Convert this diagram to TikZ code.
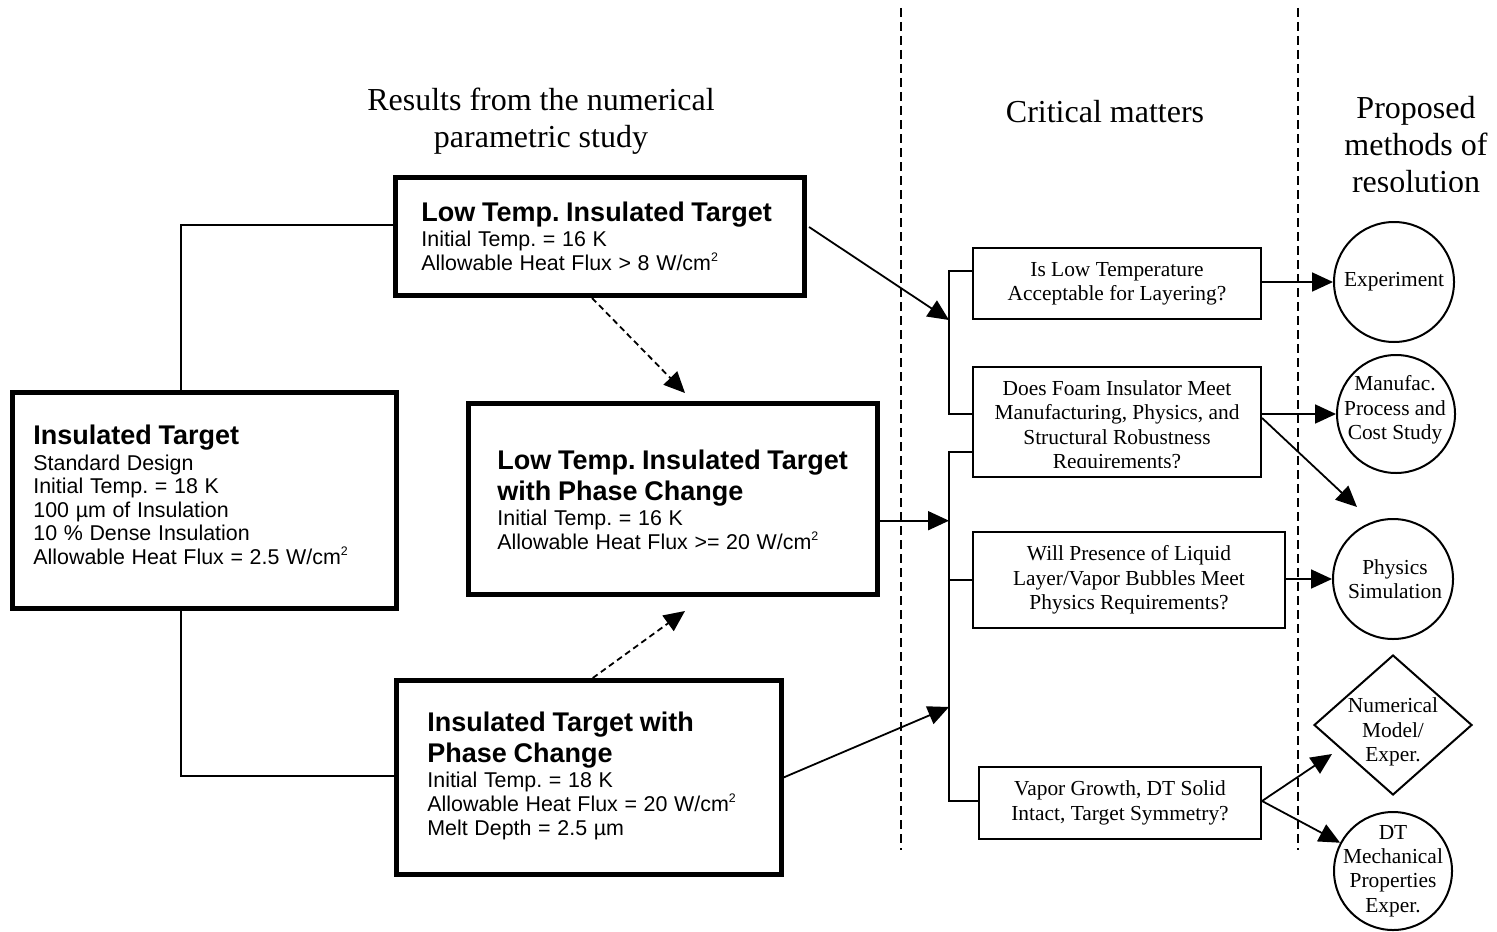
\documentclass[tikz,border=0pt]{standalone}
\usepackage{fontspec}
\setmainfont{Liberation Serif}
\newfontfamily\arialfont{Liberation Sans}
\usetikzlibrary{arrows.meta,shapes.geometric,calc}
\frenchspacing

% type sizes
\newcommand{\boxtitle}{\arialfont\fontsize{13.5}{15.5}\selectfont\bfseries}
\newcommand{\boxbody}{\arialfont\fontsize{10.7}{11.75}\selectfont\mdseries}
\newcommand{\serifsmall}{\rmfamily\fontsize{10.7}{12.2}\selectfont}
\newcommand{\serifhead}{\rmfamily\fontsize{16}{18.5}\selectfont}
\newcommand{\sqr}{\raisebox{0.42em}{\fontsize{6.2}{7}\selectfont 2}}

\tikzset{
  thickbox/.style={draw, rectangle, line width=2.5pt, inner sep=0pt},
  thinbox/.style={draw, rectangle, line width=1pt, inner sep=0pt, align=center, font=\serifsmall},
  ring/.style={draw, circle, line width=1pt, inner sep=0pt},
  rhomb/.style={draw, diamond, line width=1pt, inner sep=0pt},
  boxtext/.style={anchor=north west, inner sep=0pt, text width=185pt, align=left},
  seriftext/.style={inner sep=0pt, align=center, font=\serifsmall},
  header/.style={inner sep=0pt, align=center, font=\serifhead},
  conn/.style={line width=0.9pt},
  arr/.style={conn, -{Triangle[length=10.5pt,width=9.5pt]}},
  darr/.style={arr, dash pattern=on 3pt off 2pt},
  sepline/.style={line width=0.9pt, dash pattern=on 4.5pt off 2.5pt},
}

\begin{document}
\begin{tikzpicture}[x=0.5pt,y=-0.5pt]
\useasboundingbox (0,0) rectangle (1497,931);

% column separators
\coordinate (sepAtop) at (901,8);  \coordinate (sepAbot) at (901,850);
\coordinate (sepBtop) at (1298,8); \coordinate (sepBbot) at (1298,850);
\draw[sepline] (sepAtop) -- (sepAbot);
\draw[sepline] (sepBtop) -- (sepBbot);

% column headings
\node[header] (h1) at (541,121) {Results from the numerical\\parametric study};
\node[header] (h2) at (1105,112) {Critical matters};
\begin{scope}
  \clip (1300,0) rectangle (1497,191);
  \node[header] (h3) at (1416,145) {Proposed\\methods of\\resolution};
\end{scope}

% design cases
\node[thickbox, minimum width=192pt, minimum height=107.75pt] (A) at (204.5,500.3) {};
\node[thickbox, minimum width=204.5pt, minimum height=59pt] (B) at (600,236.5) {};
\node[thickbox, minimum width=204.25pt, minimum height=95.25pt] (C) at (673,499.2) {};
\node[thickbox, minimum width=192.25pt, minimum height=97pt] (D) at (588.75,777.5) {};

\node[boxtext] (At) at (33,425) {\boxtitle Insulated Target\par\vskip1pt
  \boxbody Standard Design\\Initial Temp. = 18 K\\100 µm of Insulation\\10 \% Dense Insulation\\Allowable Heat Flux = 2.5 W/cm\sqr};
\node[boxtext] (Bt) at (421,201.5) {\boxtitle Low Temp. Insulated Target\par\vskip1pt
  \boxbody Initial Temp. = 16 K\\Allowable Heat Flux > 8 W/cm\sqr};
\node[boxtext] (Ct) at (497,449.5) {\boxtitle Low Temp. Insulated Target\\with Phase Change\par\vskip1pt
  \boxbody Initial Temp. = 16 K\\Allowable Heat Flux >= 20 W/cm\sqr};
\node[boxtext] (Dt) at (427,711.5) {\boxtitle Insulated Target with\\Phase Change\par\vskip1pt
  \boxbody Initial Temp. = 18 K\\Allowable Heat Flux = 20 W/cm\sqr\\Melt Depth = 2.5 µm};

% critical matters
\node[thinbox, minimum width=144pt, minimum height=35.5pt] (E) at (1117,283.5) {Is Low Temperature\\Acceptable for Layering?};
\node[thinbox, minimum width=144pt, minimum height=55pt] (F) at (1117,422) {};
\begin{scope}
  \clip (F.north west) rectangle ($(F.south east)+(0,-11)$);
  \node[seriftext] (Ft) at (1117,427) {Does Foam Insulator Meet\\Manufacturing, Physics, and\\Structural Robustness\\Requirements?};
\end{scope}
\node[thinbox, minimum width=156pt, minimum height=48pt] (G) at (1129,580) {Will Presence of Liquid\\Layer/Vapor Bubbles Meet\\Physics Requirements?};
\node[thinbox, minimum width=141pt, minimum height=36pt] (H) at (1120,803) {Vapor Growth, DT Solid\\Intact, Target Symmetry?};

% methods of resolution
\node[ring, minimum size=60pt] (Exp) at (1394,282) {};
\node[ring, minimum size=59pt] (Man) at (1396,414) {};
\node[ring, minimum size=60pt] (Phys) at (1393,579) {};
\node[rhomb, minimum width=79pt, minimum height=70pt] (Dia) at (1393,725) {};
\node[ring, minimum size=59pt] (DT) at (1393,871) {};

\node[seriftext] (ExpT) at (1394,282) {Experiment};
\node[seriftext] (ManT) at (1395,410) {Manufac.\\Process and\\Cost Study};
\node[seriftext] (PhysT) at (1395,579) {Physics\\Simulation};
\node[seriftext] (DiaT) at (1393,732) {Numerical\\Model/\\Exper.};
\node[seriftext] (DTT) at (1393,871) {DT\\Mechanical\\Properties\\Exper.};

% standard design branches
\draw[conn] ($(A.north)+(-23.5,0)$) |- ($(B.west)+(0,-11.5)$);
\draw[conn] ($(A.south)+(-23.5,0)$) |- ($(D.west)+(0,-1.5)$);

% links between the design cases
\coordinate (bToC) at (685,393);
\coordinate (dToC) at (685,611);
\draw[darr] ($(B.south)+(-8,0)$) -- (bToC);
\draw[darr] ($(D.north)+(4,0)$) -- (dToC);

% collecting bars of the critical matters
\coordinate (busA1) at (949,271); \coordinate (busA2) at (949,414);
\coordinate (busB1) at (949,452); \coordinate (busB2) at (949,801);
\draw[conn] (E.west |- busA1) -- (busA1) -- (busA2) -- (F.west |- busA2);
\draw[conn] (F.west |- busB1) -- (busB1) -- (busB2) -- (H.west |- busB2);
\draw[conn] (G.west) -- (G.west -| busB1);

% cases to critical matters
\coordinate (jB) at (949,320);
\coordinate (jD) at (949,707);
\coordinate (cOut) at ($(C.east)+(0,21.5)$);
\draw[arr] ($(B.east)+(2,-9.5)$) -- (jB);
\draw[arr] (cOut) -- (cOut -| busB1);
\draw[arr] (D.east) -- (jD);

% critical matters to methods
\draw[arr] (Exp.west -| E.east) -- (Exp.west);
\draw[arr] (Man.west -| F.east) -- (Man.west);
\coordinate (fOut) at ($(F.east)+(0,-4)$);
\coordinate (fFree) at (1357,507);
\draw[arr] (fOut) -- (fFree);
\draw[arr] (Phys.west -| G.east) -- (Phys.west);
\coordinate (hOut) at ($(H.east)+(0,-2)$);
\coordinate (tDia) at (1332,754);
\draw[arr] (hOut) -- (tDia);
\draw[arr] (hOut) -- (DT);
\end{tikzpicture}
\end{document}
